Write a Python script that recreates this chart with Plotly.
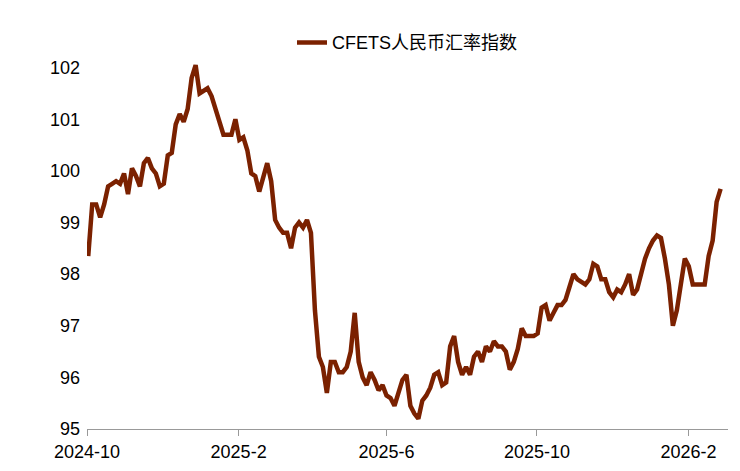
import pandas as pd
import plotly.graph_objects as go

# CFETS index, sampled at roughly even intervals from 2024-10 to 2026-02
values = [
    98.35, 99.35, 99.35, 99.1, 99.35, 99.7, 99.75, 99.8, 99.75, 99.95,
    99.55, 100.05, 99.9, 99.7, 100.15, 100.25, 100.05, 99.95, 99.7, 99.75,
    100.3, 100.35, 100.9, 101.1, 100.95, 101.2, 101.8, 102.05, 101.5, 101.55,
    101.6, 101.45, 101.2, 100.9, 100.7, 100.7, 100.7, 101.0, 100.6, 100.65,
    100.4, 99.95, 99.9, 99.6, 99.9, 100.15, 99.8, 99.05, 98.9, 98.8,
    98.8, 98.5, 98.9, 99.0, 98.9, 99.05, 98.8, 97.3, 96.4, 96.2,
    95.7, 96.3, 96.3, 96.1, 96.1, 96.2, 96.5, 97.25, 96.3, 96.0,
    95.85, 96.1, 95.95, 95.75, 95.85, 95.65, 95.6, 95.45, 95.7, 95.95,
    96.05, 95.45, 95.3, 95.2, 95.55, 95.65, 95.8, 96.05, 96.1, 95.85,
    95.9, 96.6, 96.8, 96.3, 96.05, 96.2, 96.05, 96.4, 96.5, 96.3,
    96.6, 96.5, 96.7, 96.6, 96.6, 96.5, 96.15, 96.3, 96.55, 96.95,
    96.8, 96.8, 96.8, 96.85, 97.35, 97.4, 97.1, 97.25, 97.4, 97.4,
    97.5, 97.75, 98.0, 97.9, 97.85, 97.8, 97.9, 98.2, 98.15, 97.9,
    97.9, 97.65, 97.55, 97.7, 97.65, 97.8, 98.0, 97.6, 97.7, 98.0,
    98.3, 98.5, 98.65, 98.75, 98.7, 98.3, 97.8, 97.0, 97.3, 97.8,
    98.3, 98.15, 97.8, 97.8, 97.8, 97.8, 98.35, 98.65, 99.4, 99.65,
]
dates = pd.date_range(start='2024-10-02', end='2026-02-27', periods=len(values))

tick_vals = ['2024-10-01', '2025-02-01', '2025-06-01', '2025-10-01', '2026-02-01']
tick_text = ['2024-10', '2025-2', '2025-6', '2025-10', '2026-2']
y_ticks = [95, 96, 97, 98, 99, 100, 101, 102, 103]

fig = go.Figure()
fig.add_trace(go.Scatter(
    x=dates, y=values, mode='lines', name='CFETS人民币汇率指数',
    line=dict(color='#7B2100', width=4.5)
))

fig.update_layout(
    width=740, height=471,
    margin=dict(l=79, r=20, t=8, b=50),
    plot_bgcolor='white', paper_bgcolor='white',
    font=dict(family='Arial, Liberation Sans, Noto Sans CJK SC', size=18, color='black'),
    legend=dict(x=0.5, y=0.98, xanchor='center', yanchor='top',
                font=dict(size=18), bgcolor='rgba(0,0,0,0)'),
    showlegend=True,
)
fig.update_xaxes(
    range=['2024-10-01', '2026-03-05'],
    tickvals=tick_vals, ticktext=tick_text, automargin=False,
    showgrid=False, showline=True, linecolor='#999999', linewidth=1,
    ticks='outside', tickcolor='#999999', ticklen=6,
)
fig.update_yaxes(
    range=[95, 103], tickvals=y_ticks, showgrid=False, showline=False,
    ticks='', zeroline=False, automargin=False, ticklabelstandoff=6,
)

fig.write_html("out.html")
